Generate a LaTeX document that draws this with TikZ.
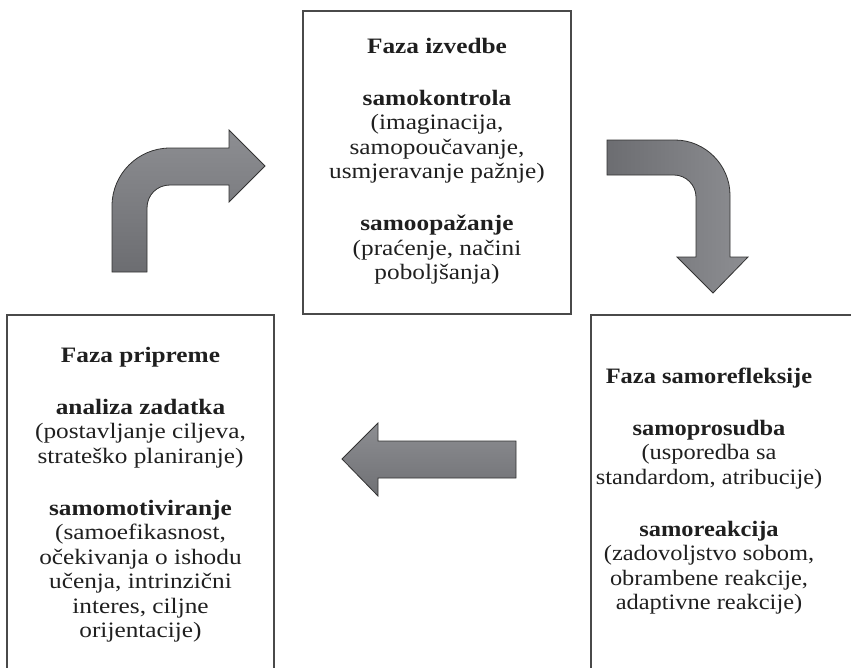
\documentclass[tikz,border=0pt]{standalone}
\usepackage{fontspec}
\setmainfont{Liberation Serif}[FakeStretch=1.15]
\newfontfamily\narrowserif{Liberation Serif}[FakeStretch=1.11]
\usetikzlibrary{shadings}
\definecolor{boxline}{HTML}{4A4A4A}
\definecolor{arrowline}{HTML}{333333}
\definecolor{adark}{HTML}{6C6D71}
\definecolor{alight}{HTML}{8D8E92}
\tikzset{
  phasebox/.style={draw=boxline, line width=1.4pt},
  bigarrow/.style={draw=arrowline, line width=0.8pt, line join=miter},
  boxtext/.style={anchor=base, inner sep=0pt, text=black!88},
}
\newcommand{\boxlines}[1]{\parbox[t]{280pt}{\centering\fontsize{22}{24.5}\selectfont #1}}
\begin{document}
\begin{tikzpicture}[x=1pt,y=-1pt]
\useasboundingbox (0,0) rectangle (851,667);
% boxes
\draw[phasebox] (303,11) rectangle (571,314);
\draw[phasebox] (274,680) -- (274,315) -- (7,315) -- (7,680);
\draw[phasebox] (591,680) -- (591,315) -- (870,315);
% texts
\node[boxtext] (tizv) at (437,53) {\boxlines{\textbf{Faza izvedbe}\\[27.5pt]
 \textbf{samokontrola}\\(imaginacija,\\samopoučavanje,\\usmjeravanje pažnje)\\[27.5pt]
 \textbf{samoopažanje}\\(praćenje, načini\\poboljšanja)}};
\node[boxtext] (tpri) at (140.5,362) {\boxlines{\textbf{Faza pripreme}\\[27.5pt]
 \textbf{analiza zadatka}\\(postavljanje ciljeva,\\strateško planiranje)\\[27.5pt]
 \textbf{samomotiviranje}\\(samoefikasnost,\\očekivanja o ishodu\\učenja, intrinzični\\interes, ciljne\\orijentacije)}};
\node[boxtext] (tref) at (709,383) {\boxlines{\narrowserif\textbf{Faza samorefleksije}\\[27.5pt]
 \textbf{samoprosudba}\\(usporedba sa\\standardom, atribucije)\\[27.5pt]
 \textbf{samoreakcija}\\(zadovoljstvo sobom,\\obrambene reakcije,\\adaptivne reakcije)}};
% arrow 1: up then right
\draw[bigarrow, top color=alight, bottom color=adark]
  (112,272) -- (112,206) .. controls (112,174) and (138,148) .. (170,148)
  -- (229,148) -- (229,130) -- (265,166) -- (229,202) -- (229,185) -- (170,185)
  .. controls (157,185) and (147,195) .. (147,208) -- (147,272) -- cycle;
% arrow 2: right then down
\draw[bigarrow, left color=adark, right color=alight]
  (607,140) -- (675,140) .. controls (705,140) and (730,165) .. (730,195)
  -- (730,257) -- (748,257) -- (713,293) -- (677,257) -- (696,257) -- (696,197)
  .. controls (696,185) and (686,175) .. (674,175) -- (607,175) -- cycle;
% arrow 3: left
\draw[bigarrow, top color=alight, bottom color=adark!90!alight]
  (516,441) -- (378,441) -- (378,423) -- (342,459) -- (378,496) -- (378,478) -- (516,478) -- cycle;
\end{tikzpicture}
\end{document}
